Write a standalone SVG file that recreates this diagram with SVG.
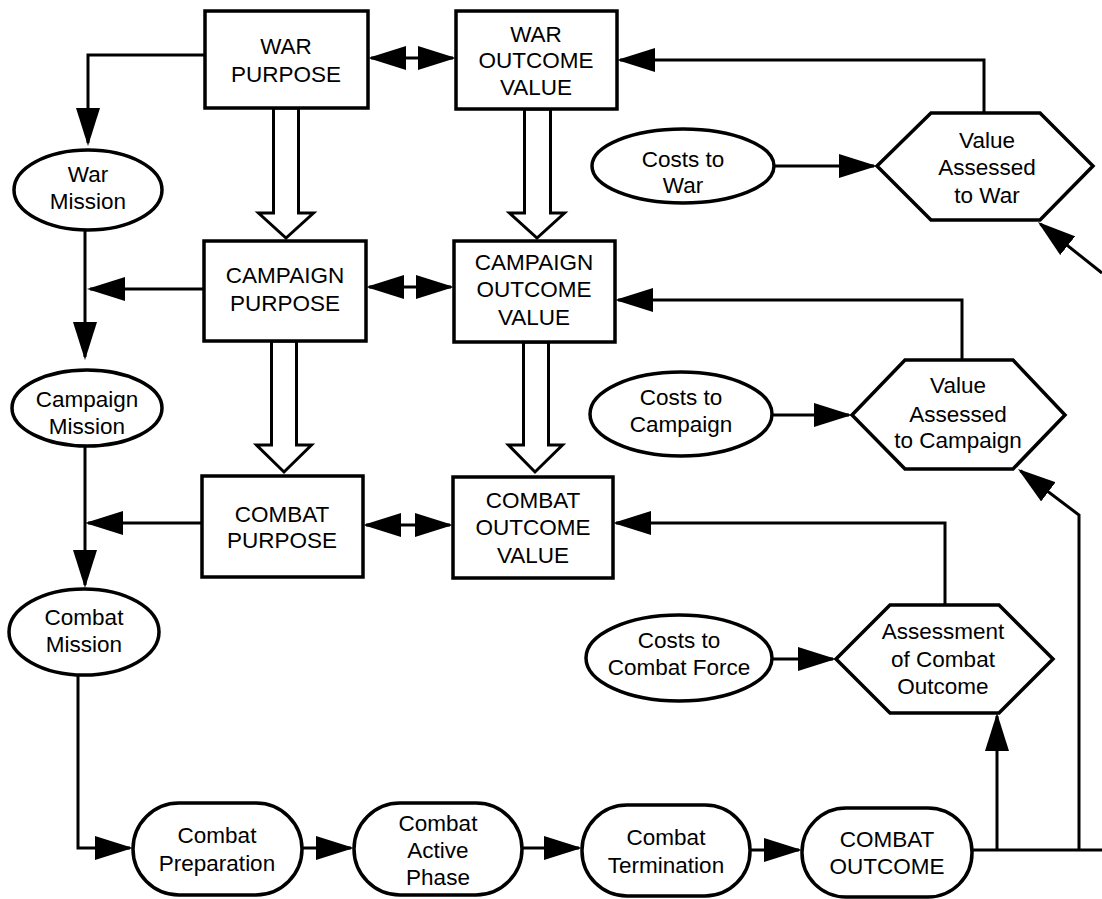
<svg xmlns="http://www.w3.org/2000/svg" width="1102" height="899" viewBox="0 0 1102 899">
<style>
.n{fill:#fff;stroke:#000;stroke-width:3.5}
.c{fill:none;stroke:#000;stroke-width:3}
.b{fill:#fff;stroke:#000;stroke-width:3;stroke-linejoin:miter}
text{font-family:"Liberation Sans",Arial,Helvetica,sans-serif;font-size:22.5px;text-anchor:middle;fill:#000}
</style>
<defs>
<marker id="ah" viewBox="0 0 38 24" refX="35" refY="12" markerWidth="38" markerHeight="24" markerUnits="userSpaceOnUse" orient="auto-start-reverse">
<path d="M0,0 L38,12 L0,24 Z" fill="#000"/>
</marker>
</defs>
<rect width="1102" height="899" fill="#fff"/>
<g id="connectors">
<path class="c" d="M205,55 H88 V143" marker-end="url(#ah)"/>
<path class="c" d="M204,289 H90" marker-end="url(#ah)"/>
<path class="c" d="M85,230 V357" marker-end="url(#ah)"/>
<path class="c" d="M202,523 H88" marker-end="url(#ah)"/>
<path class="c" d="M85,447 V585" marker-end="url(#ah)"/>
<path class="c" d="M78,675 V848 H130" marker-end="url(#ah)"/>
<path class="c" d="M302,848 H351" marker-end="url(#ah)"/>
<path class="c" d="M522,848 H579" marker-end="url(#ah)"/>
<path class="c" d="M750,850 H799" marker-end="url(#ah)"/>
<path class="c" d="M972,850 H1102"/>
<path class="c" d="M997,850 V716" marker-end="url(#ah)"/>
<path class="c" d="M1079,850 V515 L1020.4,470.8" marker-end="url(#ah)"/>
<path class="c" d="M1102,273 L1040.3,223.9" marker-end="url(#ah)"/>
<path class="c" d="M772,659 H833" marker-end="url(#ah)"/>
<path class="c" d="M945,605 V523 H616" marker-end="url(#ah)"/>
<path class="c" d="M772,415 H849" marker-end="url(#ah)"/>
<path class="c" d="M962,360 V300 H618" marker-end="url(#ah)"/>
<path class="c" d="M774,166 H874" marker-end="url(#ah)"/>
<path class="c" d="M984,113 V60 H620" marker-end="url(#ah)"/>
<path class="c" d="M371,58 H453" marker-start="url(#ah)" marker-end="url(#ah)"/>
<path class="c" d="M369,287 H451" marker-start="url(#ah)" marker-end="url(#ah)"/>
<path class="c" d="M366,525 H450" marker-start="url(#ah)" marker-end="url(#ah)"/>
<polygon class="b" points="273.5,108 273.5,213 258.5,213 286,238 313.5,213 298.5,213 298.5,108"/>
<polygon class="b" points="271.5,341 271.5,445 256.5,445 284,472 311.5,445 296.5,445 296.5,341"/>
<polygon class="b" points="524.5,109 524.5,213 509.5,213 537,238 564.5,213 550.5,213 550.5,109"/>
<polygon class="b" points="523.5,342 523.5,445 508.5,445 535,472 562.5,445 548.5,445 548.5,342"/>
</g>
<g id="war-purpose">
<rect class="n" x="205" y="11" width="163" height="97"/>
<text x="286" y="54">WAR</text><text x="286" y="82">PURPOSE</text>
</g>
<g id="war-outcome-value">
<rect class="n" x="456" y="11" width="161" height="98"/>
<text x="536" y="42">WAR</text><text x="536" y="68">OUTCOME</text><text x="536" y="95">VALUE</text>
</g>
<g id="campaign-purpose">
<rect class="n" x="204" y="241" width="162" height="100"/>
<text x="285" y="283">CAMPAIGN</text><text x="285" y="311">PURPOSE</text>
</g>
<g id="campaign-outcome-value">
<rect class="n" x="454" y="241" width="161" height="101"/>
<text x="534" y="270">CAMPAIGN</text><text x="534" y="297">OUTCOME</text><text x="534" y="325">VALUE</text>
</g>
<g id="combat-purpose">
<rect class="n" x="202" y="476" width="161" height="101"/>
<text x="282" y="522">COMBAT</text><text x="282" y="548">PURPOSE</text>
</g>
<g id="combat-outcome-value">
<rect class="n" x="453" y="477" width="160" height="101"/>
<text x="533" y="508">COMBAT</text><text x="533" y="535">OUTCOME</text><text x="533" y="563">VALUE</text>
</g>
<g id="war-mission">
<ellipse class="n" cx="88" cy="190" rx="74" ry="40"/>
<text x="88" y="182">War</text><text x="88" y="209">Mission</text>
</g>
<g id="campaign-mission">
<ellipse class="n" cx="87" cy="408" rx="75" ry="38"/>
<text x="87" y="407">Campaign</text><text x="87" y="434">Mission</text>
</g>
<g id="combat-mission">
<ellipse class="n" cx="84" cy="632" rx="75" ry="43"/>
<text x="84" y="625">Combat</text><text x="84" y="652">Mission</text>
</g>
<g id="costs-war">
<ellipse class="n" cx="683" cy="166" rx="91" ry="37"/>
<text x="683" y="167">Costs to</text><text x="683" y="193">War</text>
</g>
<g id="costs-campaign">
<ellipse class="n" cx="681" cy="414" rx="91" ry="42"/>
<text x="681" y="405">Costs to</text><text x="681" y="432">Campaign</text>
</g>
<g id="costs-combat">
<ellipse class="n" cx="679" cy="658" rx="93" ry="43"/>
<text x="679" y="648">Costs to</text><text x="679" y="675">Combat Force</text>
</g>
<g id="value-war">
<polygon class="n" points="877,166 931,113 1040,113 1093,166 1040,220 931,220"/>
<text x="987" y="148">Value</text><text x="987" y="175">Assessed</text><text x="987" y="203">to War</text>
</g>
<g id="value-campaign">
<polygon class="n" points="852,415 905,360 1013,360 1065,415 1013,469 905,469"/>
<text x="958" y="393">Value</text><text x="958" y="422">Assessed</text><text x="958" y="448">to Campaign</text>
</g>
<g id="assessment-combat">
<polygon class="n" points="836,659 890,605 999,605 1053,659 999,713 890,713"/>
<text x="943" y="639">Assessment</text><text x="943" y="667">of Combat</text><text x="943" y="694">Outcome</text>
</g>
<g id="combat-preparation">
<rect class="n" x="133" y="803" width="169" height="92" rx="46" ry="46"/>
<text x="217" y="843">Combat</text><text x="217" y="871">Preparation</text>
</g>
<g id="combat-active">
<rect class="n" x="354" y="803" width="168" height="92" rx="46" ry="46"/>
<text x="438" y="831">Combat</text><text x="438" y="858">Active</text><text x="438" y="885">Phase</text>
</g>
<g id="combat-termination">
<rect class="n" x="582" y="805" width="168" height="91" rx="45" ry="45"/>
<text x="666" y="845">Combat</text><text x="666" y="873">Termination</text>
</g>
<g id="combat-outcome">
<rect class="n" x="802" y="808" width="170" height="89" rx="44" ry="44"/>
<text x="887" y="847">COMBAT</text><text x="887" y="874">OUTCOME</text>
</g>
</svg>
